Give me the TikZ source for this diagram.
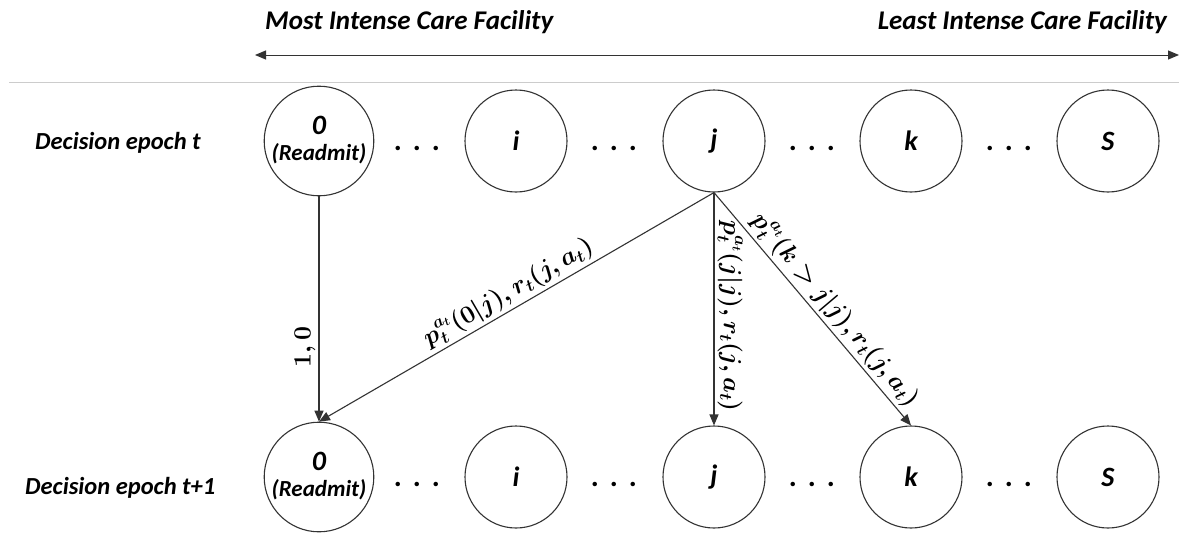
\documentclass[tikz,border=0pt]{standalone}
\usepackage[no-math]{fontspec}
\usepackage{amsmath}
\usetikzlibrary{arrows.meta}
\newfontfamily\calfont{Carlito}
\definecolor{edgegray}{HTML}{333333}
\definecolor{rulegray}{HTML}{CCCCCC}
\newcommand{\readmitlabel}{\begin{tabular}{@{}c@{}}0\\[-4pt]{\fontsize{23}{25}\selectfont(Readmit)}\end{tabular}}
\newcommand{\probtext}[1]{{\boldmath$#1$}}
\begin{document}
\begin{tikzpicture}[x=1pt,y=-1pt,
  state/.style={circle,draw=edgegray,line width=1.1pt,minimum size=102pt,inner sep=0pt,
    font=\calfont\bfseries\itshape\fontsize{28}{30}\selectfont},
  heading/.style={font=\calfont\bfseries\itshape\fontsize{27}{30}\selectfont,inner sep=0pt},
  rowlabel/.style={font=\calfont\bfseries\itshape\fontsize{24.5}{27}\selectfont,inner sep=0pt,anchor=west},
  ellip/.style={font=\calfont\bfseries\fontsize{30}{32}\selectfont,inner sep=0pt,anchor=base},
  trans/.style={draw=edgegray,line width=1.1pt,-{Triangle[length=11pt,width=9pt]}},
  prob/.style={font=\fontsize{23.5}{27}\selectfont,inner sep=3pt}]
  \useasboundingbox (0,0) rectangle (1179,538);
  \fill[white] (0,0) rectangle (1179,538);

  % axis of care intensity
  \node[heading,anchor=west] (most) at (265,22) {Most Intense Care Facility};
  \node[heading,anchor=east] (least) at (1167,22) {Least Intense Care Facility};
  \coordinate (axL) at (255,55);
  \coordinate (axR) at (1179,55);
  \draw[edgegray,line width=1pt,{Triangle[length=11pt,width=9pt]}-{Triangle[length=11pt,width=9pt]}] (axL) -- (axR);
  \coordinate (ruleL) at (9,82);
  \coordinate (ruleR) at (1179,82);
  \draw[rulegray,line width=1pt] (ruleL) -- (ruleR);

  % row labels
  \node[rowlabel] (lt) at (35,143) {Decision epoch t};
  \node[rowlabel] (lt1) at (25,488) {Decision epoch t+1};

  % states at epoch t
  \node[state] (s0t) at (319,141) {\readmitlabel};
  \node[state] (sit) at (516,141) {i};
  \node[state] (sjt) at (714,141) {j};
  \node[state] (skt) at (911,141) {k};
  \node[state] (sSt) at (1108,141) {S};

  % states at epoch t+1
  \node[state] (s0b) at (319,477) {\readmitlabel};
  \node[state] (sib) at (516,477) {i};
  \node[state] (sjb) at (714,477) {j};
  \node[state] (skb) at (911,477) {k};
  \node[state] (sSb) at (1108,477) {S};

  % ellipses between states
  \foreach \xa/\nm in {417/a,614/b,812/c,1009/d}{
    \node[ellip] (dt\nm) at (\xa,150) {.\hspace{11pt}.\hspace{11pt}.};
    \node[ellip] (db\nm) at (\xa,486) {.\hspace{11pt}.\hspace{11pt}.};
  }

  % transitions
  \draw[trans] (s0t) -- node[pos=0.67,rotate=90,anchor=south,prob] {\probtext{1,0}} (s0b.north);
  \draw[trans] (sjt.south) -- node[pos=0.5,sloped,above,prob] {\probtext{p_t^{a_t}(0|j), r_t(j,a_t)}} (s0b.north);
  \draw[trans] (sjt.south) -- node[pos=0.53,sloped,above,prob] {\probtext{p_t^{a_t}(j|j), r_t(j,a_t)}} (sjb.north);
  \draw[trans] (sjt.south) -- node[pos=0.55,sloped,above,prob] {\probtext{p_t^{a_t}(k>j|j), r_t(j,a_t)}} (skb.north);
\end{tikzpicture}
\end{document}
